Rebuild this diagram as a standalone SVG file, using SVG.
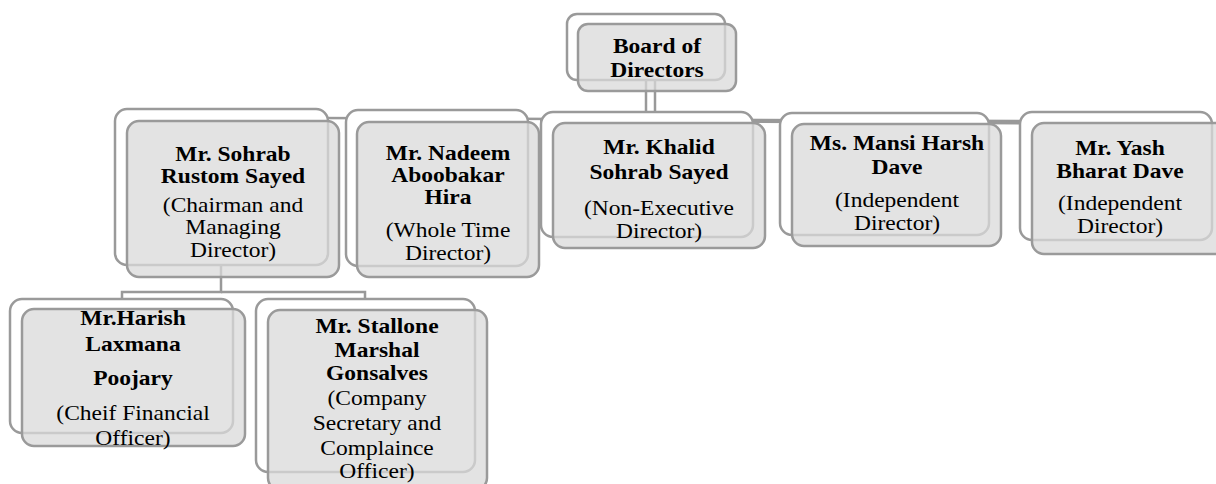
<svg xmlns="http://www.w3.org/2000/svg" width="1216" height="484" viewBox="0 0 1216 484">
<style>
.bk{fill:#ffffff;stroke:#9a9a9a;stroke-width:2.5}
.fr{fill:#d9d9d9;fill-opacity:0.75;stroke:#9a9a9a;stroke-width:2.5}
.cn{fill:none;stroke:#999999;stroke-width:2.5}
.t{font-family:'Liberation Serif','Times New Roman',Times,serif;font-size:21px;fill:#000000;text-anchor:middle}
.b{font-weight:bold}
</style>
<rect width="1216" height="484" fill="#ffffff"/>
<g id="connectors">
<line class="cn" x1="646" y1="80" x2="646" y2="118"/>
<line class="cn" x1="655" y1="80" x2="655" y2="121"/>
<line class="cn" x1="222" y1="117.5" x2="1116" y2="121.5"/>
<line class="cn" x1="540" y1="120.5" x2="1128" y2="124"/>
<polyline class="cn" points="221,265 221,292 122,292 122,299"/>
<polyline class="cn" points="221,292 365,292 365,299"/>
</g>
<g id="board">
<rect class="bk" x="567" y="14" width="158" height="66" rx="10"/>
<rect class="fr" x="578" y="24" width="158" height="67" rx="10"/>
<g transform="translate(657 0) scale(1.12 1) translate(-657 0)">
<text class="t b" x="657" y="53">Board of</text>
<text class="t b" x="657" y="77">Directors</text>
</g>
</g>
<g id="sohrab">
<rect class="bk" x="115" y="109" width="213" height="156" rx="12"/>
<rect class="fr" x="127" y="121" width="212" height="156" rx="12"/>
<g transform="translate(233 0) scale(1.12 1) translate(-233 0)">
<text class="t b" x="233" y="161">Mr. Sohrab</text>
<text class="t b" x="233" y="183">Rustom Sayed</text>
<text class="t" x="233" y="212">(Chairman and</text>
<text class="t" x="233" y="234">Managing</text>
<text class="t" x="233" y="257">Director)</text>
</g>
</g>
<g id="nadeem">
<rect class="bk" x="346" y="110" width="182" height="156" rx="12"/>
<rect class="fr" x="357" y="122" width="182" height="155" rx="12"/>
<g transform="translate(448 0) scale(1.12 1) translate(-448 0)">
<text class="t b" x="448" y="160">Mr. Nadeem</text>
<text class="t b" x="448" y="182">Aboobakar</text>
<text class="t b" x="448" y="204">Hira</text>
<text class="t" x="448" y="237">(Whole Time</text>
<text class="t" x="448" y="260">Director)</text>
</g>
</g>
<g id="khalid">
<rect class="bk" x="541" y="112" width="212" height="125" rx="12"/>
<rect class="fr" x="553" y="123" width="212" height="125" rx="12"/>
<g transform="translate(659 0) scale(1.12 1) translate(-659 0)">
<text class="t b" x="659" y="154">Mr. Khalid</text>
<text class="t b" x="659" y="179">Sohrab Sayed</text>
<text class="t" x="659" y="215">(Non-Executive</text>
<text class="t" x="659" y="238">Director)</text>
</g>
</g>
<g id="mansi">
<rect class="bk" x="780" y="113" width="209" height="122" rx="12"/>
<rect class="fr" x="792" y="124" width="209" height="122" rx="12"/>
<g transform="translate(897 0) scale(1.12 1) translate(-897 0)">
<text class="t b" x="897" y="150">Ms. Mansi Harsh</text>
<text class="t b" x="897" y="174">Dave</text>
<text class="t" x="897" y="207">(Independent</text>
<text class="t" x="897" y="230">Director)</text>
</g>
</g>
<g id="yash">
<rect class="bk" x="1020" y="112" width="192" height="128" rx="12"/>
<rect class="fr" x="1032" y="123" width="195" height="131" rx="12"/>
<g transform="translate(1120 0) scale(1.12 1) translate(-1120 0)">
<text class="t b" x="1120" y="155">Mr. Yash</text>
<text class="t b" x="1120" y="178">Bharat Dave</text>
<text class="t" x="1120" y="210">(Independent</text>
<text class="t" x="1120" y="233">Director)</text>
</g>
</g>
<g id="harish">
<rect class="bk" x="10" y="299" width="223" height="134" rx="12"/>
<rect class="fr" x="22" y="309" width="223" height="137" rx="12"/>
<g transform="translate(133 0) scale(1.12 1) translate(-133 0)">
<text class="t b" x="133" y="325">Mr.Harish</text>
<text class="t b" x="133" y="351">Laxmana</text>
<text class="t b" x="133" y="385">Poojary</text>
<text class="t" x="133" y="420">(Cheif Financial</text>
<text class="t" x="133" y="445">Officer)</text>
</g>
</g>
<g id="stallone">
<rect class="bk" x="256" y="299" width="219" height="173" rx="12"/>
<rect class="fr" x="268" y="310" width="219" height="180" rx="12"/>
<g transform="translate(377 0) scale(1.12 1) translate(-377 0)">
<text class="t b" x="377" y="333">Mr. Stallone</text>
<text class="t b" x="377" y="357">Marshal</text>
<text class="t b" x="377" y="380">Gonsalves</text>
<text class="t" x="377" y="405">(Company</text>
<text class="t" x="377" y="430">Secretary and</text>
<text class="t" x="377" y="455">Complaince</text>
<text class="t" x="377" y="478">Officer)</text>
</g>
</g>
</svg>
